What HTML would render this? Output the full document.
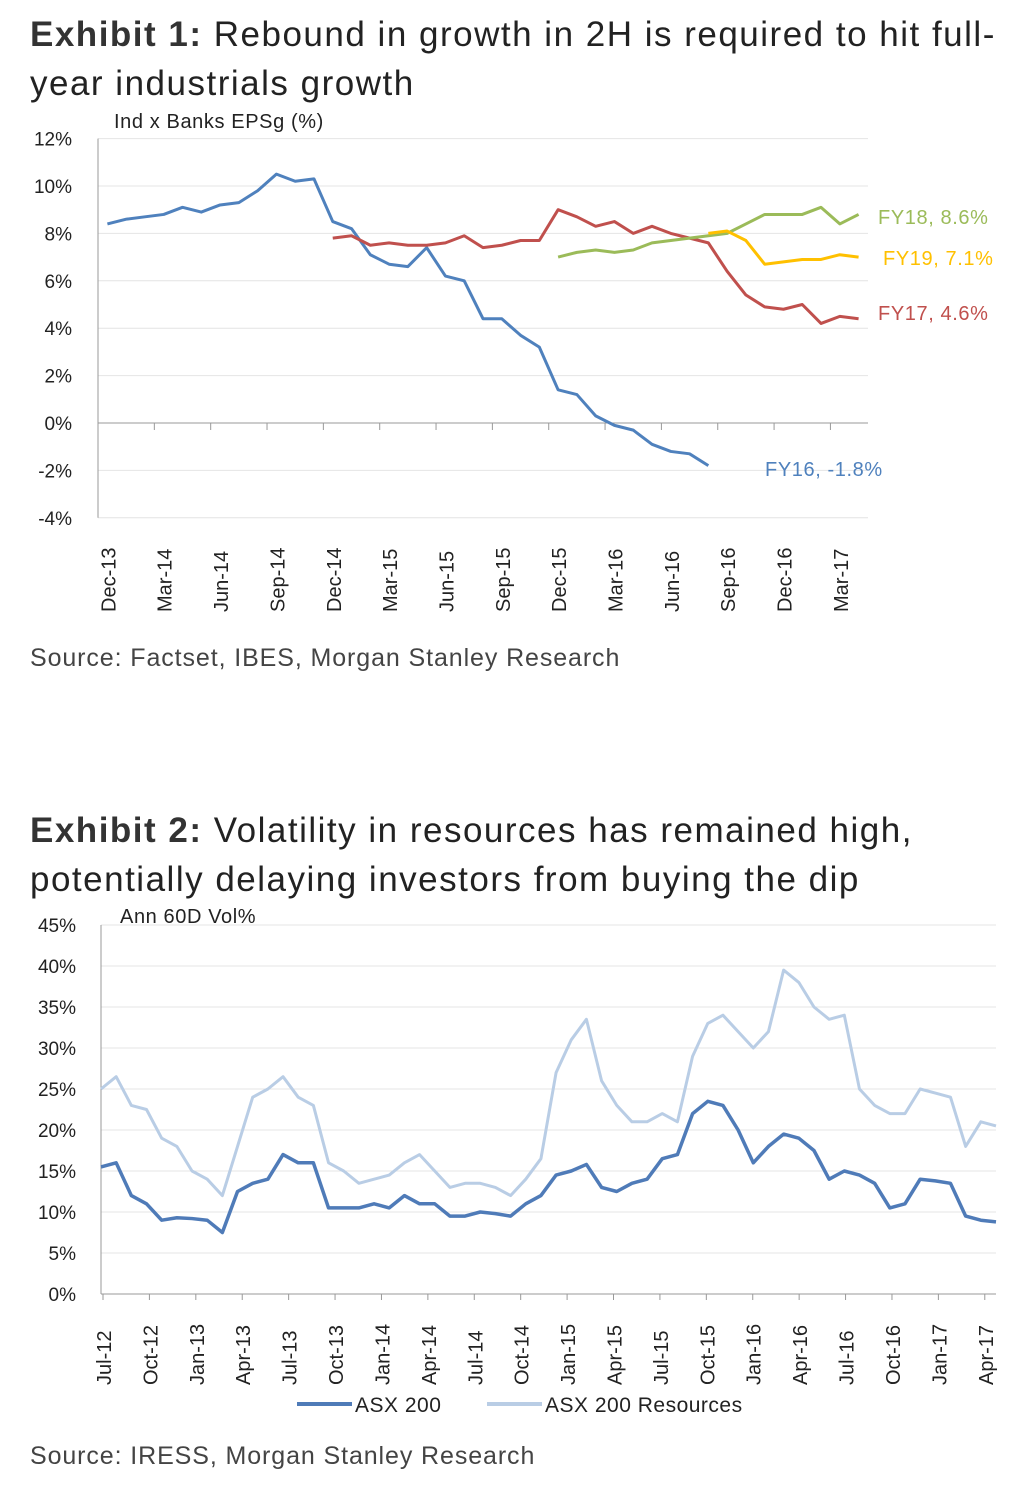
<!DOCTYPE html>
<html><head><meta charset="utf-8"><style>
body{margin:0;background:#fff;font-family:"Liberation Sans",sans-serif;}
.t{position:absolute;left:30px;font-size:35px;color:#222;line-height:49px;letter-spacing:1.5px;white-space:nowrap}
.s{position:absolute;left:30px;font-size:25px;color:#444;letter-spacing:0.9px}
</style></head><body>
<div style="position:relative;width:1012px;height:1493px;overflow:hidden">
<div class="t" style="top:10px"><b style="color:#333">Exhibit 1:</b> Rebound in growth in 2H is required to hit full-<br>year industrials growth</div>
<div class="s" style="top:644px">Source: Factset, IBES, Morgan Stanley Research</div>
<div class="t" style="top:806px"><b style="color:#333">Exhibit 2:</b> Volatility in resources has remained high,<br>potentially delaying investors from buying the dip</div>
<div class="s" style="top:1442px">Source: IRESS, Morgan Stanley Research</div>
<svg id="c1" width="1012" height="640" style="position:absolute;left:0;top:0"></svg>
<svg id="c2" width="1012" height="1493" style="position:absolute;left:0;top:0"></svg>
</div>
<script>
const c1Labels=["Dec-13","Mar-14","Jun-14","Sep-14","Dec-14","Mar-15","Jun-15","Sep-15","Dec-15","Mar-16","Jun-16","Sep-16","Dec-16","Mar-17"];
const c1Ticks=[-4,-2,0,2,4,6,8,10,12];
const fy16=[8.4,8.6,8.7,8.8,9.1,8.9,9.2,9.3,9.8,10.5,10.2,10.3,8.5,8.2,7.1,6.7,6.6,7.4,6.2,6.0,4.4,4.4,3.7,3.2,1.4,1.2,0.3,-0.1,-0.3,-0.9,-1.2,-1.3,-1.8];
const fy17=[7.8,7.9,7.5,7.6,7.5,7.5,7.6,7.9,7.4,7.5,7.7,7.7,9.0,8.7,8.3,8.5,8.0,8.3,8.0,7.8,7.6,6.4,5.4,4.9,4.8,5.0,4.2,4.5,4.4];
const fy18=[7.0,7.2,7.3,7.2,7.3,7.6,7.7,7.8,7.9,8.0,8.4,8.8,8.8,8.8,9.1,8.4,8.8];
const fy19=[8.0,8.1,7.7,6.7,6.8,6.9,6.9,7.1,7.0];
const c2Labels=["Jul-12","Oct-12","Jan-13","Apr-13","Jul-13","Oct-13","Jan-14","Apr-14","Jul-14","Oct-14","Jan-15","Apr-15","Jul-15","Oct-15","Jan-16","Apr-16","Jul-16","Oct-16","Jan-17","Apr-17"];
const c2Ticks=[0,5,10,15,20,25,30,35,40,45];
const asx=[15.5,16,12,11,9,9.3,9.2,9,7.5,12.5,13.5,14,17,16,16,10.5,10.5,10.5,11,10.5,12,11,11,9.5,9.5,10,9.8,9.5,11,12,14.5,15,15.8,13,12.5,13.5,14,16.5,17,22,23.5,23,20,16,18,19.5,19,17.5,14,15,14.5,13.5,10.5,11,14,13.8,13.5,9.5,9,8.8];
const res=[25,26.5,23,22.5,19,18,15,14,12,18,24,25,26.5,24,23,16,15,13.5,14,14.5,16,17,15,13,13.5,13.5,13,12,14,16.5,27,31,33.5,26,23,21,21,22,21,29,33,34,32,30,32,39.5,38,35,33.5,34,25,23,22,22,25,24.5,24,18,21,20.5];
const NS="http://www.w3.org/2000/svg";
function mk(svg,tag,at,txt){const e=document.createElementNS(NS,tag);for(const k in at)e.setAttribute(k,at[k]);if(txt!==undefined)e.textContent=txt;svg.appendChild(e);return e;}
(function(){const s=document.getElementById('c1');
const L=98,R=868,y=v=>423-v*23.7,x=i=>L+(i+0.5)*18.78;
c1Ticks.forEach(t=>{const g=mk(s,'line',{x1:L,x2:R,y1:y(t),y2:y(t),stroke:t==0?'#999':'#e4e4e4','stroke-width':1});

const tx=mk(s,'text',{x:72,y:y(t)+7,'font-size':19,'text-anchor':'end',fill:'#222'},t+'%');
});
mk(s,'line',{x1:L,x2:L,y1:y(12),y2:y(-4),stroke:'#999'});
for(let k=1;k<14;k++){const xx=L+k*3*18.78;mk(s,'line',{x1:xx,x2:xx,y1:423,y2:430,stroke:'#999'});}
c1Labels.forEach((l,k)=>{const xx=x(k*3)+8;const t=mk(s,'text',{x:0,y:0,transform:`translate(${xx},612) rotate(-90)`,'font-size':20,fill:'#222'},l);
});
const t0=mk(s,'text',{x:114,y:128,'font-size':20,fill:'#222','letter-spacing':0.6},'Ind x Banks EPSg (%)');
const ser=[[fy16,0,'#4f81bd','FY16, -1.8%',765,476],[fy17,12,'#c0504d','FY17, 4.6%',878,320],[fy18,24,'#9bbb59','FY18, 8.6%',878,224],[fy19,32,'#ffc000','FY19, 7.1%',883,265]];
ser.forEach(([d,o,c,lab,lx,ly])=>{const p=mk(s,'polyline',{points:d.map((v,i)=>x(i+o)+','+y(v)).join(' '),fill:'none',stroke:c,'stroke-width':3,'stroke-linejoin':'round'});

const t=mk(s,'text',{x:lx,y:ly,'font-size':20,fill:c,'letter-spacing':0.6},lab);});
})();
(function(){const s=document.getElementById('c2');
const L=101,R=996,y=v=>1294-v*8.2,x=i=>L+2+i*15.47;
c2Ticks.forEach(t=>{if(t>0){const g=mk(s,'line',{x1:L,x2:R,y1:y(t),y2:y(t),stroke:'#e4e4e4'});}
const tx=mk(s,'text',{x:76,y:y(t)+7,'font-size':19,'text-anchor':'end',fill:'#222'},t+'%');});
mk(s,'line',{x1:L,x2:L,y1:y(45),y2:1294,stroke:'#999'});mk(s,'line',{x1:L,x2:R,y1:1294,y2:1294,stroke:'#999'});
c2Labels.forEach((l,k)=>{const xx=x(k*3);mk(s,'line',{x1:xx,x2:xx,y1:1294,y2:1300,stroke:'#999'});
const t=mk(s,'text',{x:0,y:0,transform:`translate(${xx+8},1385) rotate(-90)`,'font-size':20,fill:'#222'},l);});
const t0=mk(s,'text',{x:120,y:923,'font-size':20,fill:'#222','letter-spacing':0.6},'Ann 60D Vol%');
const xs=i=>L+i*(R-L)/(asx.length-1);
const p2=mk(s,'polyline',{points:res.map((v,i)=>xs(i)+','+y(v)).join(' '),fill:'none',stroke:'#b9cde5','stroke-width':3,'stroke-linejoin':'round'});

const p1=mk(s,'polyline',{points:asx.map((v,i)=>xs(i)+','+y(v)).join(' '),fill:'none',stroke:'#4f7bb8','stroke-width':3.5,'stroke-linejoin':'round'});

mk(s,'line',{x1:297,x2:352,y1:1404,y2:1404,stroke:'#4f7bb8','stroke-width':4});
const l1=mk(s,'text',{x:355,y:1412,'font-size':21,fill:'#222','letter-spacing':0.5},'ASX 200');
mk(s,'line',{x1:487,x2:542,y1:1404,y2:1404,stroke:'#b9cde5','stroke-width':4});
const l2=mk(s,'text',{x:545,y:1412,'font-size':21,fill:'#222','letter-spacing':0.5},'ASX 200 Resources');
})();
</script>
</body></html>
